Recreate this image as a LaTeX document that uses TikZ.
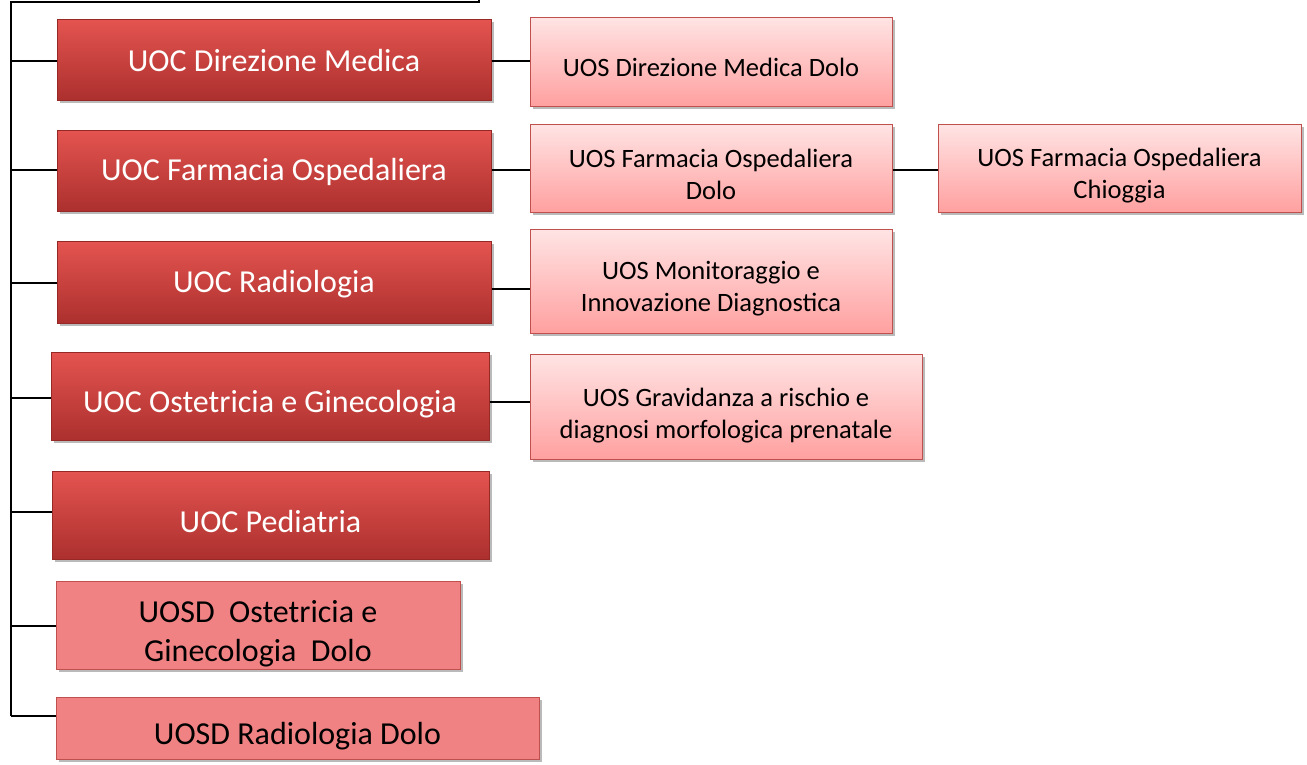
\documentclass[tikz,border=0pt]{standalone}
\usepackage{fontspec}
\setmainfont{Carlito}
\usetikzlibrary{shadows,calc}
\definecolor{uoctop}{RGB}{228,84,80}
\definecolor{uocbot}{RGB}{172,48,46}
\definecolor{uocline}{RGB}{150,40,38}
\definecolor{uostop}{RGB}{255,228,228}
\definecolor{uosbot}{RGB}{255,160,160}
\definecolor{uosline}{RGB}{192,80,77}
\definecolor{uosdfill}{RGB}{240,130,132}
\tikzset{
  base/.style={rectangle, inner sep=0pt, line width=1pt,
    drop shadow={shadow xshift=3pt, shadow yshift=-3pt, opacity=0.45, fill=black!60}},
  uoc/.style={base, draw=uocline, top color=uoctop, bottom color=uocbot},
  uos/.style={base, draw=uosline, top color=uostop, bottom color=uosbot},
  uosd/.style={base, draw=uosline, fill=uosdfill},
  uoctxt/.style={align=center, text=white, inner sep=0pt, font=\fontsize{32}{38}\selectfont},
  uostxt/.style={align=center, text=black, inner sep=0pt, font=\fontsize{26.5}{32}\selectfont},
  uosdtxt/.style={align=center, text=black, inner sep=0pt, font=\fontsize{32}{39}\selectfont},
  conn/.style={line width=1.6pt, black}
}
\begin{document}
\begin{tikzpicture}[x=1pt,y=-1pt]
\useasboundingbox (0,0) rectangle (1307,764);
% trunk
\coordinate (top0) at (479,0);
\coordinate (top1) at (479,2);
\coordinate (top2) at (11,2);
\coordinate (t1) at (11,61);
\coordinate (t2) at (11,170);
\coordinate (t3) at (11,283);
\coordinate (t4) at (11,398);
\coordinate (t5) at (11,512);
\coordinate (t6) at (11,626);
\coordinate (t7) at (11,716);
\draw[conn] (top0) -- (top1) -- (top2) -- (t7);
% UOC boxes
\node[uoc, minimum width=434, minimum height=81, label={[uoctxt,yshift=-1.5pt]center:UOC Direzione Medica}] (d1) at (274,59.5) {};
\node[uoc, minimum width=434, minimum height=81, label={[uoctxt,yshift=-1.5pt]center:UOC Farmacia Ospedaliera}] (d2) at (274,170.5) {};
\node[uoc, minimum width=434, minimum height=82, label={[uoctxt,yshift=-2pt]center:UOC Radiologia}] (d3) at (274,282) {};
\node[uoc, minimum width=438, minimum height=88, label={[uoctxt,yshift=-8.5pt]center:UOC Ostetricia e Ginecologia}] (d4) at (270,396) {};
\node[uoc, minimum width=437, minimum height=88, label={[uoctxt,yshift=-6pt]center:UOC Pediatria}] (d5) at (270.5,515) {};
\node[uosd, minimum width=404, minimum height=88, label={[uosdtxt,yshift=-9pt]center:{UOSD\ \ Ostetricia e\\Ginecologia\ \ Dolo}}] (d6) at (258,625) {};
\node[uosd, minimum width=483, minimum height=62, label={[uosdtxt,yshift=-8pt]center:UOSD Radiologia Dolo}] (d7) at (297.5,728) {};
% UOS boxes
\node[uos, minimum width=362, minimum height=89, label={[uostxt,yshift=-6pt]center:UOS Direzione Medica Dolo}] (s1) at (711,61.5) {};
\node[uos, minimum width=362, minimum height=88, label={[uostxt,yshift=-6pt]center:{UOS Farmacia Ospedaliera\\Dolo}}] (s2) at (711,168) {};
\node[uos, minimum width=363, minimum height=88, label={[uostxt,yshift=-7.5pt]center:{UOS Farmacia Ospedaliera\\Chioggia}}] (s3) at (1119.5,168) {};
\node[uos, minimum width=362, minimum height=104, label={[uostxt,yshift=-8pt]center:{UOS Monitoraggio e\\Innovazione Diagnostica}}] (s4) at (711,281) {};
\node[uos, minimum width=392, minimum height=105, label={[uostxt,yshift=-9pt]center:{UOS Gravidanza a rischio e\\diagnosi morfologica prenatale}}] (s5) at (726,406.5) {};
% connectors trunk -> UOC
\draw[conn] (t1) -- (t1 -| d1.west);
\draw[conn] (t2) -- (t2 -| d2.west);
\draw[conn] (t3) -- (t3 -| d3.west);
\draw[conn] (t4) -- (t4 -| d4.west);
\draw[conn] (t5) -- (t5 -| d5.west);
\draw[conn] (t6) -- (t6 -| d6.west);
\draw[conn] (t7) -- (t7 -| d7.west);
% UOC -> UOS
\coordinate (c1) at (0,61);
\coordinate (c2) at (0,170);
\coordinate (c3) at (0,289);
\coordinate (c4) at (0,402);
\draw[conn] (c1 -| d1.east) -- (c1 -| s1.west);
\draw[conn] (c2 -| d2.east) -- (c2 -| s2.west);
\draw[conn] (c2 -| s2.east) -- (c2 -| s3.west);
\draw[conn] (c3 -| d3.east) -- (c3 -| s4.west);
\draw[conn] (c4 -| d4.east) -- (c4 -| s5.west);
\end{tikzpicture}
\end{document}
